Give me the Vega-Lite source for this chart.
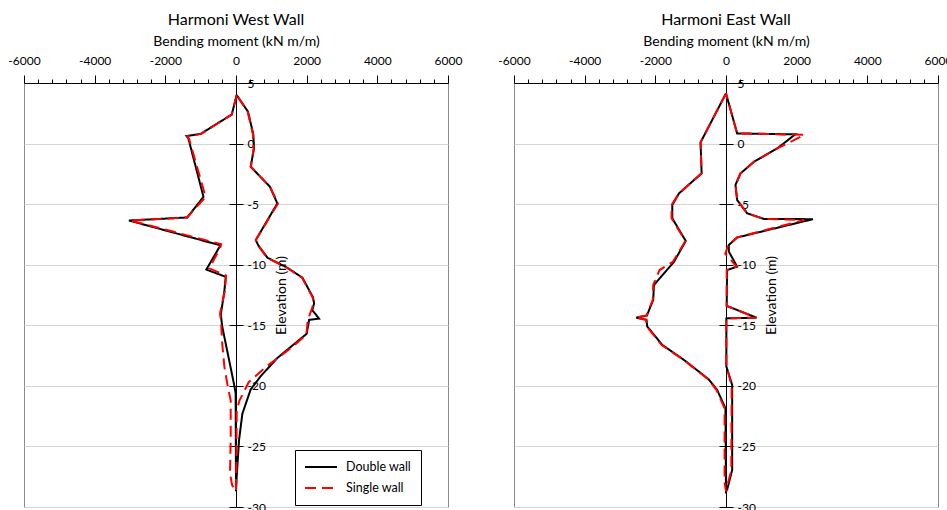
{
  "$schema": "https://vega.github.io/schema/vega-lite/v6.json",
  "padding": {"left": 7, "top": 11, "right": 0, "bottom": 0},
  "background": "white",
  "spacing": 66,
  "bounds": "flush",
  "config": {
    "font": "Lato",
    "view": {"stroke": "#8c8c8c", "strokeWidth": 1},
    "title": {"fontSize": 16, "fontWeight": "normal", "color": "black", "font": "Lato", "offset": 6},
    "axis": {"labelFont": "Lato", "titleFont": "Lato", "labelColor": "black", "titleColor": "black", "domainColor": "black", "tickColor": "black", "labelFontSize": 12, "titleFontSize": 14, "titleFontWeight": "normal", "labelOverlap": false},
    "axisX": {"labelOverlap": false, "labelFlush": false},
    "axisQuantitative": {"labelOverlap": false}
  },
  "resolve": {"legend": {"color": "independent", "strokeDash": "independent"}},
  "datasets": {
    "d": [
      {"wall": "West", "series": "Double wall", "i": 1, "elev": 4.0, "moment": 20},
      {"wall": "West", "series": "Double wall", "i": 2, "elev": 2.4, "moment": -120},
      {"wall": "West", "series": "Double wall", "i": 3, "elev": 0.8, "moment": -1000},
      {"wall": "West", "series": "Double wall", "i": 4, "elev": 0.62, "moment": -1400},
      {"wall": "West", "series": "Double wall", "i": 5, "elev": 0.45, "moment": -1350},
      {"wall": "West", "series": "Double wall", "i": 6, "elev": -4.4, "moment": -920},
      {"wall": "West", "series": "Double wall", "i": 7, "elev": -6.1, "moment": -1380},
      {"wall": "West", "series": "Double wall", "i": 8, "elev": -6.35, "moment": -3030},
      {"wall": "West", "series": "Double wall", "i": 9, "elev": -8.4, "moment": -440},
      {"wall": "West", "series": "Double wall", "i": 10, "elev": -8.6, "moment": -480},
      {"wall": "West", "series": "Double wall", "i": 11, "elev": -10.4, "moment": -840},
      {"wall": "West", "series": "Double wall", "i": 12, "elev": -11.0, "moment": -290},
      {"wall": "West", "series": "Double wall", "i": 13, "elev": -12.2, "moment": -330},
      {"wall": "West", "series": "Double wall", "i": 14, "elev": -14.1, "moment": -430},
      {"wall": "West", "series": "Double wall", "i": 15, "elev": -15.1, "moment": -390},
      {"wall": "West", "series": "Double wall", "i": 16, "elev": -19.8, "moment": -60},
      {"wall": "West", "series": "Double wall", "i": 17, "elev": -20.6, "moment": -10},
      {"wall": "West", "series": "Double wall", "i": 18, "elev": -28.7, "moment": 0},
      {"wall": "West", "series": "Double wall", "i": 19, "elev": -27.5, "moment": 20},
      {"wall": "West", "series": "Double wall", "i": 20, "elev": -24.5, "moment": 85},
      {"wall": "West", "series": "Double wall", "i": 21, "elev": -22.3, "moment": 180},
      {"wall": "West", "series": "Double wall", "i": 22, "elev": -20.3, "moment": 415},
      {"wall": "West", "series": "Double wall", "i": 23, "elev": -19.2, "moment": 700},
      {"wall": "West", "series": "Double wall", "i": 24, "elev": -17.7, "moment": 1170},
      {"wall": "West", "series": "Double wall", "i": 25, "elev": -15.7, "moment": 2000},
      {"wall": "West", "series": "Double wall", "i": 26, "elev": -14.55, "moment": 2070},
      {"wall": "West", "series": "Double wall", "i": 27, "elev": -14.45, "moment": 2350},
      {"wall": "West", "series": "Double wall", "i": 28, "elev": -13.75, "moment": 2160},
      {"wall": "West", "series": "Double wall", "i": 29, "elev": -13.2, "moment": 2210},
      {"wall": "West", "series": "Double wall", "i": 30, "elev": -12.7, "moment": 2180},
      {"wall": "West", "series": "Double wall", "i": 31, "elev": -11.07, "moment": 1880},
      {"wall": "West", "series": "Double wall", "i": 32, "elev": -10.25, "moment": 1450},
      {"wall": "West", "series": "Double wall", "i": 33, "elev": -9.42, "moment": 890},
      {"wall": "West", "series": "Double wall", "i": 34, "elev": -8.4, "moment": 630},
      {"wall": "West", "series": "Double wall", "i": 35, "elev": -7.96, "moment": 560},
      {"wall": "West", "series": "Double wall", "i": 36, "elev": -4.94, "moment": 1170},
      {"wall": "West", "series": "Double wall", "i": 37, "elev": -3.56, "moment": 960},
      {"wall": "West", "series": "Double wall", "i": 38, "elev": -1.91, "moment": 415},
      {"wall": "West", "series": "Double wall", "i": 39, "elev": -0.4, "moment": 510},
      {"wall": "West", "series": "Double wall", "i": 40, "elev": 0.76, "moment": 490},
      {"wall": "West", "series": "Double wall", "i": 41, "elev": 2.63, "moment": 340},
      {"wall": "West", "series": "Double wall", "i": 42, "elev": 4.0, "moment": 20},

      {"wall": "West", "series": "Single wall", "i": 1, "elev": 4.0, "moment": 20},
      {"wall": "West", "series": "Single wall", "i": 2, "elev": 2.4, "moment": -120},
      {"wall": "West", "series": "Single wall", "i": 3, "elev": 0.8, "moment": -980},
      {"wall": "West", "series": "Single wall", "i": 4, "elev": 0.6, "moment": -1380},
      {"wall": "West", "series": "Single wall", "i": 5, "elev": 0.4, "moment": -1330},
      {"wall": "West", "series": "Single wall", "i": 6, "elev": -4.4, "moment": -860},
      {"wall": "West", "series": "Single wall", "i": 7, "elev": -6.1, "moment": -1380},
      {"wall": "West", "series": "Single wall", "i": 8, "elev": -6.35, "moment": -3000},
      {"wall": "West", "series": "Single wall", "i": 9, "elev": -8.3, "moment": -420},
      {"wall": "West", "series": "Single wall", "i": 10, "elev": -8.7, "moment": -460},
      {"wall": "West", "series": "Single wall", "i": 11, "elev": -10.3, "moment": -760},
      {"wall": "West", "series": "Single wall", "i": 12, "elev": -10.9, "moment": -280},
      {"wall": "West", "series": "Single wall", "i": 13, "elev": -12.2, "moment": -320},
      {"wall": "West", "series": "Single wall", "i": 14, "elev": -14.0, "moment": -450},
      {"wall": "West", "series": "Single wall", "i": 15, "elev": -15.1, "moment": -415},
      {"wall": "West", "series": "Single wall", "i": 16, "elev": -16.5, "moment": -390},
      {"wall": "West", "series": "Single wall", "i": 17, "elev": -18.4, "moment": -330},
      {"wall": "West", "series": "Single wall", "i": 18, "elev": -20.1, "moment": -230},
      {"wall": "West", "series": "Single wall", "i": 19, "elev": -21.2, "moment": -150},
      {"wall": "West", "series": "Single wall", "i": 20, "elev": -24.4, "moment": -150},
      {"wall": "West", "series": "Single wall", "i": 21, "elev": -27.2, "moment": -170},
      {"wall": "West", "series": "Single wall", "i": 22, "elev": -28.2, "moment": -110},
      {"wall": "West", "series": "Single wall", "i": 23, "elev": -28.7, "moment": 0},
      {"wall": "West", "series": "Single wall", "i": 24, "elev": -27.0, "moment": 10},
      {"wall": "West", "series": "Single wall", "i": 25, "elev": -22.0, "moment": 20},
      {"wall": "West", "series": "Single wall", "i": 26, "elev": -21.2, "moment": 100},
      {"wall": "West", "series": "Single wall", "i": 27, "elev": -19.7, "moment": 360},
      {"wall": "West", "series": "Single wall", "i": 28, "elev": -18.4, "moment": 860},
      {"wall": "West", "series": "Single wall", "i": 29, "elev": -17.0, "moment": 1500},
      {"wall": "West", "series": "Single wall", "i": 30, "elev": -15.8, "moment": 1990},
      {"wall": "West", "series": "Single wall", "i": 31, "elev": -14.6, "moment": 2030},
      {"wall": "West", "series": "Single wall", "i": 32, "elev": -13.6, "moment": 2150},
      {"wall": "West", "series": "Single wall", "i": 33, "elev": -13.2, "moment": 2200},
      {"wall": "West", "series": "Single wall", "i": 34, "elev": -12.7, "moment": 2170},
      {"wall": "West", "series": "Single wall", "i": 35, "elev": -11.07, "moment": 1870},
      {"wall": "West", "series": "Single wall", "i": 36, "elev": -10.25, "moment": 1440},
      {"wall": "West", "series": "Single wall", "i": 37, "elev": -9.42, "moment": 880},
      {"wall": "West", "series": "Single wall", "i": 38, "elev": -8.4, "moment": 620},
      {"wall": "West", "series": "Single wall", "i": 39, "elev": -7.96, "moment": 560},
      {"wall": "West", "series": "Single wall", "i": 40, "elev": -4.94, "moment": 1190},
      {"wall": "West", "series": "Single wall", "i": 41, "elev": -3.56, "moment": 960},
      {"wall": "West", "series": "Single wall", "i": 42, "elev": -1.91, "moment": 420},
      {"wall": "West", "series": "Single wall", "i": 43, "elev": -0.4, "moment": 500},
      {"wall": "West", "series": "Single wall", "i": 44, "elev": 0.76, "moment": 480},
      {"wall": "West", "series": "Single wall", "i": 45, "elev": 2.63, "moment": 330},
      {"wall": "West", "series": "Single wall", "i": 46, "elev": 4.0, "moment": 20},

      {"wall": "East", "series": "Double wall", "i": 1, "elev": 4.14, "moment": 0},
      {"wall": "East", "series": "Double wall", "i": 2, "elev": 0.1, "moment": -720},
      {"wall": "East", "series": "Double wall", "i": 3, "elev": -2.46, "moment": -690},
      {"wall": "East", "series": "Double wall", "i": 4, "elev": -4.11, "moment": -1330},
      {"wall": "East", "series": "Double wall", "i": 5, "elev": -5.07, "moment": -1520},
      {"wall": "East", "series": "Double wall", "i": 6, "elev": -6.17, "moment": -1520},
      {"wall": "East", "series": "Double wall", "i": 7, "elev": -8.04, "moment": -1140},
      {"wall": "East", "series": "Double wall", "i": 8, "elev": -9.75, "moment": -1470},
      {"wall": "East", "series": "Double wall", "i": 9, "elev": -11.68, "moment": -2040},
      {"wall": "East", "series": "Double wall", "i": 10, "elev": -12.9, "moment": -2060},
      {"wall": "East", "series": "Double wall", "i": 11, "elev": -14.2, "moment": -2240},
      {"wall": "East", "series": "Double wall", "i": 12, "elev": -14.37, "moment": -2540},
      {"wall": "East", "series": "Double wall", "i": 13, "elev": -14.55, "moment": -2250},
      {"wall": "East", "series": "Double wall", "i": 14, "elev": -15.1, "moment": -2230},
      {"wall": "East", "series": "Double wall", "i": 15, "elev": -16.63, "moment": -1800},
      {"wall": "East", "series": "Double wall", "i": 16, "elev": -17.86, "moment": -1190},
      {"wall": "East", "series": "Double wall", "i": 17, "elev": -19.46, "moment": -490},
      {"wall": "East", "series": "Double wall", "i": 18, "elev": -20.34, "moment": -250},
      {"wall": "East", "series": "Double wall", "i": 19, "elev": -21.85, "moment": -15},
      {"wall": "East", "series": "Double wall", "i": 20, "elev": -28.7, "moment": 0},
      {"wall": "East", "series": "Double wall", "i": 21, "elev": -28.59, "moment": 30},
      {"wall": "East", "series": "Double wall", "i": 22, "elev": -26.94, "moment": 175},
      {"wall": "East", "series": "Double wall", "i": 23, "elev": -19.93, "moment": 175},
      {"wall": "East", "series": "Double wall", "i": 24, "elev": -18.4, "moment": 10},
      {"wall": "East", "series": "Double wall", "i": 25, "elev": -14.43, "moment": 10},
      {"wall": "East", "series": "Double wall", "i": 26, "elev": -14.37, "moment": 860},
      {"wall": "East", "series": "Double wall", "i": 27, "elev": -13.4, "moment": 20},
      {"wall": "East", "series": "Double wall", "i": 28, "elev": -10.44, "moment": 30},
      {"wall": "East", "series": "Double wall", "i": 29, "elev": -10.16, "moment": 316},
      {"wall": "East", "series": "Double wall", "i": 30, "elev": -8.92, "moment": 80},
      {"wall": "East", "series": "Double wall", "i": 31, "elev": -8.37, "moment": 80},
      {"wall": "East", "series": "Double wall", "i": 32, "elev": -7.75, "moment": 316},
      {"wall": "East", "series": "Double wall", "i": 33, "elev": -6.24, "moment": 2460},
      {"wall": "East", "series": "Double wall", "i": 34, "elev": -6.22, "moment": 1070},
      {"wall": "East", "series": "Double wall", "i": 35, "elev": -5.76, "moment": 600},
      {"wall": "East", "series": "Double wall", "i": 36, "elev": -4.66, "moment": 316},
      {"wall": "East", "series": "Double wall", "i": 37, "elev": -3.42, "moment": 268},
      {"wall": "East", "series": "Double wall", "i": 38, "elev": -2.46, "moment": 410},
      {"wall": "East", "series": "Double wall", "i": 39, "elev": -1.51, "moment": 790},
      {"wall": "East", "series": "Double wall", "i": 40, "elev": -0.4, "moment": 1450},
      {"wall": "East", "series": "Double wall", "i": 41, "elev": 0.76, "moment": 1960},
      {"wall": "East", "series": "Double wall", "i": 42, "elev": 0.84, "moment": 315},
      {"wall": "East", "series": "Double wall", "i": 43, "elev": 4.14, "moment": 0},

      {"wall": "East", "series": "Single wall", "i": 1, "elev": 4.14, "moment": 0},
      {"wall": "East", "series": "Single wall", "i": 2, "elev": 0.1, "moment": -720},
      {"wall": "East", "series": "Single wall", "i": 3, "elev": -2.46, "moment": -690},
      {"wall": "East", "series": "Single wall", "i": 4, "elev": -4.11, "moment": -1330},
      {"wall": "East", "series": "Single wall", "i": 5, "elev": -5.07, "moment": -1540},
      {"wall": "East", "series": "Single wall", "i": 6, "elev": -6.17, "moment": -1540},
      {"wall": "East", "series": "Single wall", "i": 7, "elev": -8.04, "moment": -1150},
      {"wall": "East", "series": "Single wall", "i": 8, "elev": -9.75, "moment": -1500},
      {"wall": "East", "series": "Single wall", "i": 9, "elev": -10.44, "moment": -1880},
      {"wall": "East", "series": "Single wall", "i": 10, "elev": -11.68, "moment": -2060},
      {"wall": "East", "series": "Single wall", "i": 11, "elev": -12.9, "moment": -2070},
      {"wall": "East", "series": "Single wall", "i": 12, "elev": -14.2, "moment": -2250},
      {"wall": "East", "series": "Single wall", "i": 13, "elev": -14.37, "moment": -2560},
      {"wall": "East", "series": "Single wall", "i": 14, "elev": -14.55, "moment": -2260},
      {"wall": "East", "series": "Single wall", "i": 15, "elev": -15.1, "moment": -2240},
      {"wall": "East", "series": "Single wall", "i": 16, "elev": -16.63, "moment": -1820},
      {"wall": "East", "series": "Single wall", "i": 17, "elev": -17.86, "moment": -1200},
      {"wall": "East", "series": "Single wall", "i": 18, "elev": -19.46, "moment": -500},
      {"wall": "East", "series": "Single wall", "i": 19, "elev": -20.34, "moment": -270},
      {"wall": "East", "series": "Single wall", "i": 20, "elev": -21.85, "moment": -40},
      {"wall": "East", "series": "Single wall", "i": 21, "elev": -28.0, "moment": -40},
      {"wall": "East", "series": "Single wall", "i": 22, "elev": -28.7, "moment": 0},
      {"wall": "East", "series": "Single wall", "i": 23, "elev": -28.3, "moment": 30},
      {"wall": "East", "series": "Single wall", "i": 24, "elev": -27.0, "moment": 150},
      {"wall": "East", "series": "Single wall", "i": 25, "elev": -20.0, "moment": 160},
      {"wall": "East", "series": "Single wall", "i": 26, "elev": -18.3, "moment": 10},
      {"wall": "East", "series": "Single wall", "i": 27, "elev": -14.43, "moment": 10},
      {"wall": "East", "series": "Single wall", "i": 28, "elev": -14.37, "moment": 860},
      {"wall": "East", "series": "Single wall", "i": 29, "elev": -13.4, "moment": 20},
      {"wall": "East", "series": "Single wall", "i": 30, "elev": -10.44, "moment": 20},
      {"wall": "East", "series": "Single wall", "i": 31, "elev": -10.16, "moment": 300},
      {"wall": "East", "series": "Single wall", "i": 32, "elev": -9.1, "moment": -20},
      {"wall": "East", "series": "Single wall", "i": 33, "elev": -8.4, "moment": 60},
      {"wall": "East", "series": "Single wall", "i": 34, "elev": -7.75, "moment": 316},
      {"wall": "East", "series": "Single wall", "i": 35, "elev": -6.3, "moment": 2220},
      {"wall": "East", "series": "Single wall", "i": 36, "elev": -6.22, "moment": 1070},
      {"wall": "East", "series": "Single wall", "i": 37, "elev": -5.76, "moment": 600},
      {"wall": "East", "series": "Single wall", "i": 38, "elev": -4.66, "moment": 316},
      {"wall": "East", "series": "Single wall", "i": 39, "elev": -3.42, "moment": 268},
      {"wall": "East", "series": "Single wall", "i": 40, "elev": -2.46, "moment": 410},
      {"wall": "East", "series": "Single wall", "i": 41, "elev": -1.51, "moment": 790},
      {"wall": "East", "series": "Single wall", "i": 42, "elev": -0.4, "moment": 1450},
      {"wall": "East", "series": "Single wall", "i": 43, "elev": 0.72, "moment": 2220},
      {"wall": "East", "series": "Single wall", "i": 44, "elev": 0.84, "moment": 315},
      {"wall": "East", "series": "Single wall", "i": 45, "elev": 4.14, "moment": 0}
    ]
  },
  "hconcat": [
    {
      "width": 424,
      "height": 424,
      "title": "Harmoni West Wall",
      "data": {"name": "d"},
      "transform": [{"filter": "datum.wall === 'West'"}],
      "resolve": {"axis": {"y": "independent"}},
      "layer": [
        {
          "transform": [{"filter": "datum.series === 'Double wall'"}],
          "mark": {"type": "line", "strokeWidth": 2},
          "encoding": {
            "x": {"field": "moment", "type": "quantitative", "scale": {"domain": [-6000, 6000], "nice": false},
              "axis": {"orient": "top", "title": "Bending moment (kN m/m)", "titlePadding": 6,
                "values": [-6000,-5600,-5200,-4800,-4400,-4000,-3600,-3200,-2800,-2400,-2000,-1600,-1200,-800,-400,0,400,800,1200,1600,2000,2400,2800,3200,3600,4000,4400,4800,5200,5600,6000],
                "labelExpr": "datum.value % 2000 === 0 ? '' + datum.value : ''",
                "tickSize": {"condition": {"test": "datum.value % 2000 === 0", "value": 8}, "value": 4},
                "labelPadding": 8, "labelFlush": false, "labelOverlap": false, "labelBound": false, "grid": false}},
            "y": {"field": "elev", "type": "quantitative", "scale": {"domain": [-30, 5], "nice": false},
              "axis": {"orient": "right", "offset": -212, "values": [-30,-25,-20,-15,-10,-5,0,5],
                "labelExpr": "'' + datum.value", "tickSize": 7, "labelPadding": 4, "grid": false,
                "title": "Elevation (m)", "titleAngle": 270, "titleBaseline": "top", "titlePadding": 9,
                "labelFlush": false, "labelOverlap": false}},
            "color": {"field": "series", "type": "nominal", "scale": {"domain": ["Double wall", "Single wall"], "range": ["#000000", "#ff0000"]},
              "legend": {"orient": "none", "legendX": 271, "legendY": 367, "title": null, "strokeColor": "black", "fillColor": "white", "padding": 9, "labelFontSize": 12.5, "labelColor": "black", "labelFont": "Lato", "symbolType": "stroke", "symbolSize": 1024, "symbolStrokeWidth": 2, "clipHeight": 16, "rowPadding": 5, "labelOffset": 8}},
            "strokeDash": {"field": "series", "type": "nominal", "scale": {"domain": ["Double wall", "Single wall"], "range": [[1, 0], [11, 6]]},
              "legend": {"orient": "none", "legendX": 271, "legendY": 367, "title": null, "strokeColor": "black", "fillColor": "white", "padding": 9, "labelFontSize": 12.5, "labelColor": "black", "labelFont": "Lato", "symbolType": "stroke", "symbolSize": 1024, "symbolStrokeWidth": 2, "clipHeight": 16, "rowPadding": 5, "labelOffset": 8}},
            "order": {"field": "i", "type": "quantitative"}
          }
        },
        {
          "transform": [{"filter": "datum.series === 'Single wall'"}],
          "mark": {"type": "line", "strokeWidth": 2},
          "encoding": {
            "x": {"field": "moment", "type": "quantitative", "scale": {"domain": [-6000, 6000], "nice": false},
              "axis": {"orient": "top", "title": "Bending moment (kN m/m)", "titlePadding": 6,
                "values": [-6000,-5600,-5200,-4800,-4400,-4000,-3600,-3200,-2800,-2400,-2000,-1600,-1200,-800,-400,0,400,800,1200,1600,2000,2400,2800,3200,3600,4000,4400,4800,5200,5600,6000],
                "labelExpr": "datum.value % 2000 === 0 ? '' + datum.value : ''",
                "tickSize": {"condition": {"test": "datum.value % 2000 === 0", "value": 8}, "value": 4},
                "labelPadding": 8, "labelFlush": false, "labelOverlap": false, "labelBound": false, "grid": false}},
            "y": {"field": "elev", "type": "quantitative", "scale": {"domain": [-30, 5], "nice": false},
              "axis": {"orient": "left", "offset": -212, "values": [-30,-25,-20,-15,-10,-5,0,5],
                "labels": false, "domain": false, "tickSize": 7, "title": null,
                "grid": true, "gridColor": "#d4d4d4", "gridWidth": 1}},
            "color": {"field": "series", "type": "nominal", "scale": {"domain": ["Double wall", "Single wall"], "range": ["#000000", "#ff0000"]},
              "legend": {"orient": "none", "legendX": 271, "legendY": 367, "title": null, "strokeColor": "black", "fillColor": "white", "padding": 9, "labelFontSize": 12.5, "labelColor": "black", "labelFont": "Lato", "symbolType": "stroke", "symbolSize": 1024, "symbolStrokeWidth": 2, "clipHeight": 16, "rowPadding": 5, "labelOffset": 8}},
            "strokeDash": {"field": "series", "type": "nominal", "scale": {"domain": ["Double wall", "Single wall"], "range": [[1, 0], [11, 6]]},
              "legend": {"orient": "none", "legendX": 271, "legendY": 367, "title": null, "strokeColor": "black", "fillColor": "white", "padding": 9, "labelFontSize": 12.5, "labelColor": "black", "labelFont": "Lato", "symbolType": "stroke", "symbolSize": 1024, "symbolStrokeWidth": 2, "clipHeight": 16, "rowPadding": 5, "labelOffset": 8}},
            "order": {"field": "i", "type": "quantitative"}
          }
        }
      ]
    },
    {
      "width": 424,
      "height": 424,
      "title": "Harmoni East Wall",
      "data": {"name": "d"},
      "transform": [{"filter": "datum.wall === 'East'"}],
      "resolve": {"axis": {"y": "independent"}},
      "layer": [
        {
          "transform": [{"filter": "datum.series === 'Double wall'"}],
          "mark": {"type": "line", "strokeWidth": 2},
          "encoding": {
            "x": {"field": "moment", "type": "quantitative", "scale": {"domain": [-6000, 6000], "nice": false},
              "axis": {"orient": "top", "title": "Bending moment (kN m/m)", "titlePadding": 6,
                "values": [-6000,-5600,-5200,-4800,-4400,-4000,-3600,-3200,-2800,-2400,-2000,-1600,-1200,-800,-400,0,400,800,1200,1600,2000,2400,2800,3200,3600,4000,4400,4800,5200,5600,6000],
                "labelExpr": "datum.value % 2000 === 0 ? '' + datum.value : ''",
                "tickSize": {"condition": {"test": "datum.value % 2000 === 0", "value": 8}, "value": 4},
                "labelPadding": 8, "labelFlush": false, "labelOverlap": false, "labelBound": false, "grid": false}},
            "y": {"field": "elev", "type": "quantitative", "scale": {"domain": [-30, 5], "nice": false},
              "axis": {"orient": "right", "offset": -212, "values": [-30,-25,-20,-15,-10,-5,0,5],
                "labelExpr": "'' + datum.value", "tickSize": 7, "labelPadding": 4, "grid": false,
                "title": "Elevation (m)", "titleAngle": 270, "titleBaseline": "top", "titlePadding": 9,
                "labelFlush": false, "labelOverlap": false}},
            "color": {"field": "series", "type": "nominal", "scale": {"domain": ["Double wall", "Single wall"], "range": ["#000000", "#ff0000"]}, "legend": null},
            "strokeDash": {"field": "series", "type": "nominal", "scale": {"domain": ["Double wall", "Single wall"], "range": [[1, 0], [11, 6]]}, "legend": null},
            "order": {"field": "i", "type": "quantitative"}
          }
        },
        {
          "transform": [{"filter": "datum.series === 'Single wall'"}],
          "mark": {"type": "line", "strokeWidth": 2},
          "encoding": {
            "x": {"field": "moment", "type": "quantitative", "scale": {"domain": [-6000, 6000], "nice": false},
              "axis": {"orient": "top", "title": "Bending moment (kN m/m)", "titlePadding": 6,
                "values": [-6000,-5600,-5200,-4800,-4400,-4000,-3600,-3200,-2800,-2400,-2000,-1600,-1200,-800,-400,0,400,800,1200,1600,2000,2400,2800,3200,3600,4000,4400,4800,5200,5600,6000],
                "labelExpr": "datum.value % 2000 === 0 ? '' + datum.value : ''",
                "tickSize": {"condition": {"test": "datum.value % 2000 === 0", "value": 8}, "value": 4},
                "labelPadding": 8, "labelFlush": false, "labelOverlap": false, "labelBound": false, "grid": false}},
            "y": {"field": "elev", "type": "quantitative", "scale": {"domain": [-30, 5], "nice": false},
              "axis": {"orient": "left", "offset": -212, "values": [-30,-25,-20,-15,-10,-5,0,5],
                "labels": false, "domain": false, "tickSize": 7, "title": null,
                "grid": true, "gridColor": "#d4d4d4", "gridWidth": 1}},
            "color": {"field": "series", "type": "nominal", "scale": {"domain": ["Double wall", "Single wall"], "range": ["#000000", "#ff0000"]}, "legend": null},
            "strokeDash": {"field": "series", "type": "nominal", "scale": {"domain": ["Double wall", "Single wall"], "range": [[1, 0], [11, 6]]}, "legend": null},
            "order": {"field": "i", "type": "quantitative"}
          }
        }
      ]
    }
  ]
}
